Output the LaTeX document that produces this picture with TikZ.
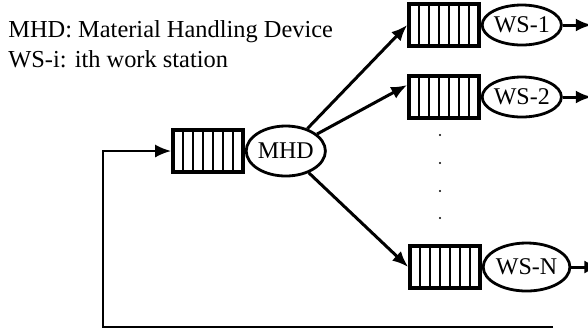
\documentclass[tikz,border=0pt]{standalone}
\usepackage{fontspec}
\setmainfont{Liberation Serif}
\usetikzlibrary{arrows.meta, positioning, shapes.geometric}

\begin{document}
\begin{tikzpicture}[
    x=0.5pt, y=-0.5pt,
    node distance=0pt,
    buffer/.style={rectangle, draw=black, line width=1.8pt, minimum width=35pt, minimum height=21pt, inner sep=0pt,
        path picture={\foreach \k in {1,...,6}
            \draw[line width=1.1pt] ([xshift=\k*5pt]path picture bounding box.north west) -- ([xshift=\k*5pt]path picture bounding box.south west);}},
    station/.style={ellipse, draw=black, line width=1.4pt, minimum width=39pt, minimum height=20pt, inner sep=0pt, font=\fontsize{12}{14}\selectfont},
    arrow/.style={-{Latex[length=8pt, width=6.5pt]}, line width=1.5pt},
    legend/.style={anchor=base west, inner sep=0pt, font=\fontsize{12.2}{14}\selectfont}
]
\useasboundingbox (0,0) rectangle (588,329);

% legend
\node[legend] (abbrmhd) at (8,37) {MHD: Material Handling Device};
\node[legend] (abbrws) at (8,67) {WS-i: ith work station};

% material handling device with its buffer
\node[buffer] (qm) at (208,151) {};
\node[station, right=of qm, minimum width=34.5pt, minimum height=25pt] (mhd) {MHD};

% work stations
\node[buffer] (q1) at (444,25) {};
\node[station, right=of q1] (ws1) {WS-1};
\node[buffer] (q2) at (444,97) {};
\node[station, right=of q2] (ws2) {WS-2};
\node[buffer] (qn) at (445,267) {};
\node[station, right=of qn, minimum height=24pt] (wsn) {WS-N};

\foreach \y in {135,163,191,218}
    \fill (440,\y) circle (0.6pt);

% outgoing parts
\coordinate[right=14.5pt of ws1.east] (o1);
\coordinate[right=14.5pt of ws2.east] (o2);
\coordinate[right=14.5pt of wsn.east] (on);
\draw[arrow] (ws1) -- (o1);
\draw[arrow] (ws2) -- (o2);
\draw[arrow] (wsn) -- (on);

\draw[arrow] (mhd) -- (q1.west);
\draw[arrow] (mhd) -- ([yshift=6pt]q2.west);
\draw[arrow] (mhd) -- (qn.west);

% return loop
\coordinate (fb1) at (553,327);
\coordinate (fb2) at (103,327);
\draw[arrow, line width=1.2pt] (fb1) -- (fb2) |- (qm.west);
\end{tikzpicture}
\end{document}
